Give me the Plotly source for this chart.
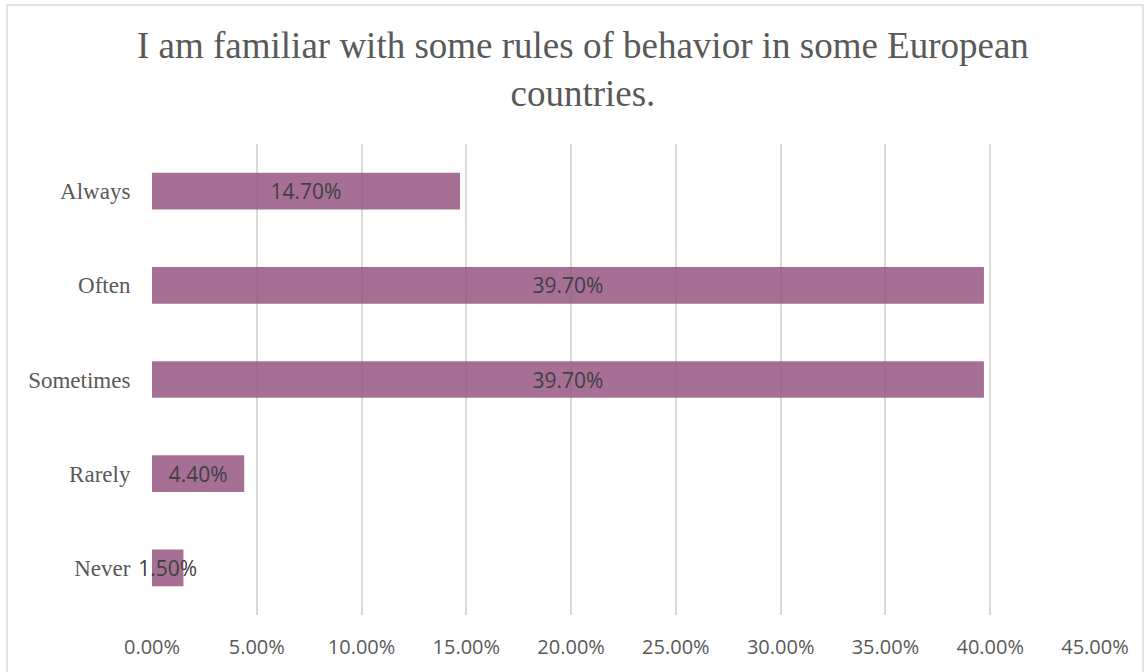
import plotly.graph_objects as go

categories = ["Never", "Rarely", "Sometimes", "Often", "Always"]
values = [1.5, 4.4, 39.7, 39.7, 14.7]
labels = ["1.50%", "4.40%", "39.70%", "39.70%", "14.70%"]
tick_vals = [0, 5, 10, 15, 20, 25, 30, 35, 40, 45]
tick_text = ["0.00%", "5.00%", "10.00%", "15.00%", "20.00%", "25.00%", "30.00%", "35.00%", "40.00%", "45.00%"]
title_text = "I am familiar with some rules of behavior in some European<br>countries."

W, H = 1145, 672
L, R, T, B = 152, 50, 144, 57
pw, ph = W - L - R, H - T - B

fig = go.Figure(go.Bar(
    y=categories, x=values, orientation="h",
    marker=dict(color="rgba(151,87,131,0.85)", line=dict(width=0)),
    text=labels, textposition="inside", insidetextanchor="middle",
    textangle=0, cliponaxis=False,
    textfont=dict(family="Open Sans", size=21, color="#404040"),
))

def px_to_paper_x(px):
    return (px - L) / pw

def px_to_paper_y(py):
    return (H - B - py) / ph

fig.update_layout(
    width=W, height=H,
    margin=dict(l=L, r=R, t=T, b=B, pad=0),
    paper_bgcolor="white", plot_bgcolor="white",
    bargap=0.61,
    showlegend=False,
    uniformtext=dict(minsize=21, mode="show"),
    xaxis=dict(
        range=[0, 45], tickvals=tick_vals, ticktext=tick_text,
        showgrid=True, gridcolor="#d9d9d9", gridwidth=1.5,
        zeroline=False, showline=False, ticks="outside",
        ticklen=14, tickcolor="rgba(0,0,0,0)",
        tickfont=dict(family="Open Sans", size=20, color="#595959"),
        fixedrange=True,
    ),
    yaxis=dict(
        showgrid=False, zeroline=False, showline=False, ticks="outside",
        ticklen=16, tickcolor="rgba(0,0,0,0)",
        tickfont=dict(family="Liberation Serif", size=23, color="#595959"),
        fixedrange=True,
    ),
    annotations=[dict(
        text=title_text, xref="paper", yref="paper",
        x=px_to_paper_x(583), y=px_to_paper_y(69),
        xanchor="center", yanchor="middle", showarrow=False,
        font=dict(family="Liberation Serif", size=37, color="#595959"),
    )],
    shapes=[dict(
        type="rect", xref="paper", yref="paper",
        x0=px_to_paper_x(7), x1=px_to_paper_x(1143),
        y0=px_to_paper_y(690), y1=px_to_paper_y(5),
        line=dict(color="#d9d9d9", width=1.5), fillcolor="rgba(0,0,0,0)",
        layer="below",
    )],
)

fig.write_html("out.html")
